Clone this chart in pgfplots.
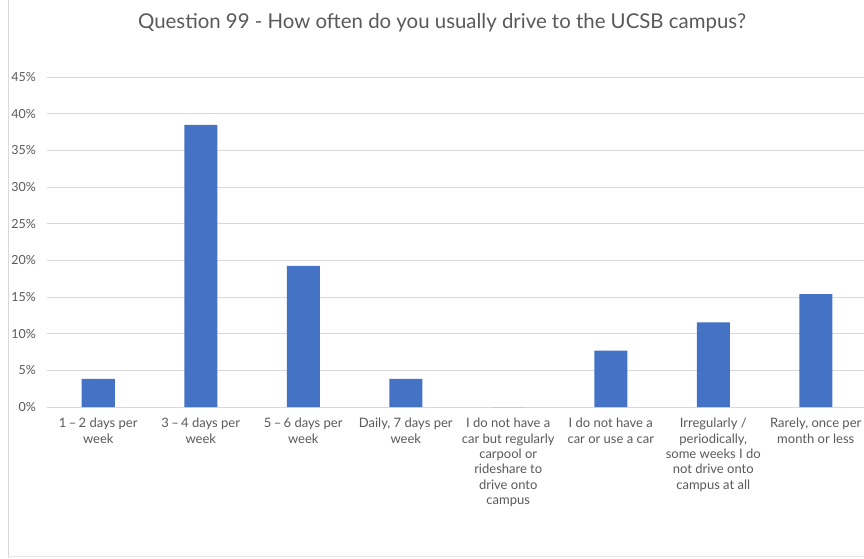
\documentclass[border=0pt]{standalone}
\usepackage{pgfplots}
\pgfplotsset{compat=1.18}
\usepackage{fontspec}
\setmainfont{Lato}
\definecolor{barblue}{HTML}{4472C4}
\definecolor{txtgray}{HTML}{595959}
\definecolor{gridgray}{HTML}{D9D9D9}
\newcommand{\dd}{\hspace{0.18em}–\hspace{0.18em}}
\begin{document}
\begin{tikzpicture}[x=1pt,y=1pt]
\useasboundingbox (0,0) rectangle (864,558);
\draw[gridgray, line width=0.8pt] (8,0) -- (8,558);
\draw[gridgray!60, line width=0.8pt] (8,2) -- (864,2);
\node[text=txtgray, font=\fontsize{20.4}{24}\selectfont] at (442,535) {Question 99 - How often do you usually drive to the UCSB campus?};
\begin{axis}[
  at={(47pt,151pt)}, anchor=south west,
  scale only axis, width=820pt, height=330pt,
  xmin=-0.5, xmax=7.5, ymin=0, ymax=45,
  ytick={0,5,...,45},
  xtick={0,...,7},
  xticklabels={{1\dd2 days per\\week},{3\dd4 days per\\week},{5\dd6 days per\\week},{Daily, 7 days per\\week},{I do not have a\\car but regularly\\carpool or\\rideshare to\\drive onto\\campus},{I do not have a\\car or use a car},{Irregularly /\\periodically,\\some weeks I do\\not drive onto\\campus at all},{Rarely, once per\\month or less}},
  /pgf/number format/assume math mode=true,
  yticklabel={\pgfmathprintnumber{\tick}\%},
  axis line style={draw=none},
  major tick length=0pt,
  ymajorgrids, grid style={gridgray, line width=0.8pt},
  yticklabel style={text=txtgray, font=\fontsize{12.5}{15}\selectfont, anchor=east, inner sep=0pt, xshift=-11pt},
  xticklabel style={text=txtgray, font=\fontsize{13}{15.4}\selectfont, align=center, anchor=north, inner sep=0pt, yshift=-11pt},
  clip=false,
]
\addplot[ybar, bar width=33pt, fill=barblue, draw=none] coordinates {
(0,3.85) (1,38.46) (2,19.23) (3,3.85) (4,0) (5,7.69) (6,11.54) (7,15.38)};
\end{axis}
\end{tikzpicture}
\end{document}
